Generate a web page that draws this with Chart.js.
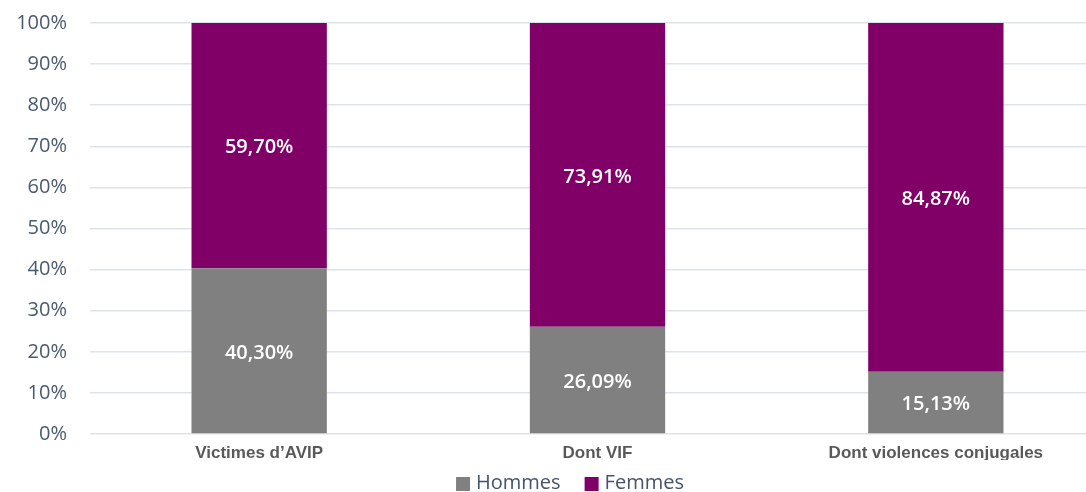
<!DOCTYPE html>
<html>
<head>
<meta charset="utf-8">
<script src="https://cdn.jsdelivr.net/npm/chart.js@4/dist/chart.umd.min.js"></script>
<style>
  html, body { margin: 0; padding: 0; background: #fff; overflow: hidden; }
  #wrap { width: 1105px; height: 492px; position: relative; }
</style>
</head>
<body>
<div id="wrap"><canvas id="chart"></canvas></div>
<script>
const categories = ["Victimes d\u2019AVIP", "Dont VIF", "Dont violences conjugales"];
const hommes = [40.30, 26.09, 15.13];
const femmes = [59.70, 73.91, 84.87];
const seriesNames = ["Hommes", "Femmes"];
const seriesColors = ["#808080", "#800068"];

// white value labels in the middle of each segment
const segmentLabels = {
  id: "segmentLabels",
  afterDatasetsDraw(chart) {
    const ctx = chart.ctx;
    ctx.save();
    ctx.fillStyle = "#ffffff";
    ctx.font = "600 20px 'Open Sans'";
    ctx.textAlign = "center";
    ctx.textBaseline = "middle";
    chart.data.datasets.forEach((ds, i) => {
      chart.getDatasetMeta(i).data.forEach((bar, j) => {
        const p = bar.getProps(["x", "y", "base"], true);
        const txt = ds.data[j].toFixed(2).replace(".", ",") + "%";
        ctx.fillText(txt, p.x, (p.y + p.base) / 2 + 2);
      });
    });
    ctx.restore();
  }
};

// legend drawn under the axis
const bottomLegend = {
  id: "bottomLegend",
  afterDraw(chart) {
    const ctx = chart.ctx;
    ctx.save();
    ctx.font = "20px 'Open Sans'";
    ctx.textBaseline = "middle";
    const box = 14, gap = 6, spacing = 24;
    const items = chart.data.datasets.map(ds => ({
      text: ds.label, color: ds.backgroundColor,
      w: box + gap + ctx.measureText(ds.label).width
    }));
    const total = items.reduce((s, it) => s + it.w, 0) + spacing * (items.length - 1);
    let x = 570 - total / 2;
    const y = 483;
    items.forEach(it => {
      ctx.fillStyle = it.color;
      ctx.fillRect(x, y - box / 2 + 1, box, box);
      ctx.fillStyle = "#44546a";
      ctx.fillText(it.text, x + box + gap, y);
      x += it.w + spacing;
    });
    ctx.restore();
  }
};

new Chart(document.getElementById("chart"), {
  type: "bar",
  data: {
    labels: categories,
    datasets: [
      { label: seriesNames[0], data: hommes, backgroundColor: seriesColors[0] },
      { label: seriesNames[1], data: femmes, backgroundColor: seriesColors[1] },
    ],
  },
  options: {
    responsive: true,
    maintainAspectRatio: false,
    animation: false,
    barPercentage: 0.4,
    categoryPercentage: 1,
    layout: { padding: { top: 23, bottom: 32, left: 0, right: 0 } },
    plugins: {
      legend: { display: false },
      tooltip: { enabled: false },
    },
    scales: {
      x: {
        stacked: true,
        grid: { display: false, drawTicks: false },
        border: { display: false },
        ticks: {
          color: "#595959",
          padding: 9,
          font: { family: "'Liberation Sans', Arial", size: 17, weight: "bold" },
        },
        afterFit(scale) { scale.height = 26; },
      },
      y: {
        stacked: true,
        min: 0,
        max: 100,
        grid: { color: "#dde3ec", lineWidth: 1.5, drawTicks: false },
        border: { display: false },
        ticks: {
          stepSize: 10,
          color: "#4a5a6e",
          padding: 23,
          font: { family: "'Open Sans'", size: 20 },
          callback: v => v + "%",
        },
        afterFit(scale) {
          scale.width = 90;
          scale.paddingTop = 0;
          scale.paddingBottom = 0;
        },
      },
    },
  },
  plugins: [segmentLabels, bottomLegend],
});
</script>
</body>
</html>
